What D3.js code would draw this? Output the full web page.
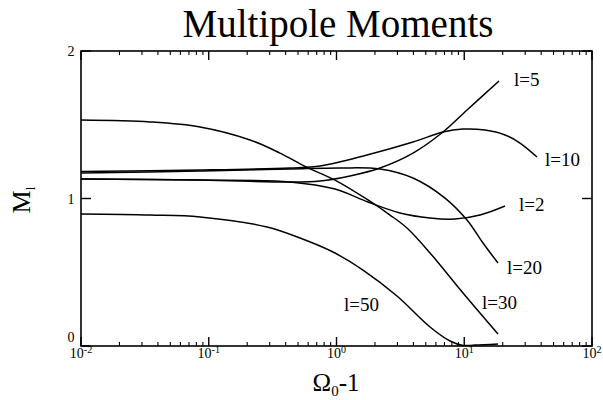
<!DOCTYPE html>
<html><head><meta charset="utf-8">
<script src="https://cdn.jsdelivr.net/npm/d3@7"></script>
<style>body{margin:0;background:#fff}svg{display:block}text{font-family:"Liberation Serif","Times New Roman",serif;fill:#000}</style>
</head><body><svg id="c" width="603" height="400"></svg>
<script>
// Data (x = Omega0 - 1, y = M_l)
const l2x  = [0.01, 0.0854, 0.4325, 0.973, 1.765, 3.142, 5.395, 8.465, 13.29, 20.84];
const l2y  = [1.132, 1.125, 1.112, 1.064, 0.976, 0.902, 0.868, 0.861, 0.888, 0.949];
const l5x  = [0.01, 0.0854, 0.4325, 0.743, 1.276, 2.190, 3.970, 6.820, 10.51, 18.71];
const l5y  = [1.132, 1.125, 1.112, 1.119, 1.153, 1.207, 1.308, 1.451, 1.600, 1.797];
const l10x = [0.01, 0.0854, 0.4325, 0.743, 1.733, 3.970, 6.820, 9.78, 14.54, 20.84, 27.32, 37.1];
const l10y = [1.183, 1.193, 1.207, 1.220, 1.295, 1.383, 1.451, 1.471, 1.464, 1.431, 1.376, 1.281];
const l20x = [0.01, 0.0854, 0.4325, 1.065, 2.190, 3.970, 7.07, 10.51, 14.02, 18.37];
const l20y = [1.173, 1.186, 1.200, 1.207, 1.200, 1.139, 1.003, 0.854, 0.698, 0.563];
const l30x = [0.01, 0.0347, 0.0854, 0.2104, 0.361, 0.577, 0.973, 1.765, 2.624, 3.563, 5.395, 9.78, 18.37];
const l30y = [1.532, 1.519, 1.485, 1.397, 1.308, 1.214, 1.125, 0.990, 0.888, 0.800, 0.631, 0.359, 0.081];
const l50x = [0.01, 0.0347, 0.0854, 0.2858, 0.518, 0.939, 1.612, 2.976, 5.395, 7.74, 9.78, 12.14, 18.37];
const l50y = [0.895, 0.888, 0.875, 0.807, 0.732, 0.637, 0.515, 0.339, 0.129, 0.034, 0.004, 0.006, 0.014];
const seriesNames = ["l=2", "l=5", "l=10", "l=20", "l=30", "l=50"];
const xTickVals = [0.01, 0.1, 1, 10, 100];
const xTickExp = ["-2", "-1", "0", "1", "2"];
const yTickVals = [0, 1, 2];
const yTickLabels = ["0", "1", "2"];
const title = "Multipole Moments";

const series = [
  {name: seriesNames[0], xs: l2x,  ys: l2y,  lx: 519, ly: 211},
  {name: seriesNames[1], xs: l5x,  ys: l5y,  lx: 514, ly: 86},
  {name: seriesNames[2], xs: l10x, ys: l10y, lx: 545, ly: 166},
  {name: seriesNames[3], xs: l20x, ys: l20y, lx: 507, ly: 274},
  {name: seriesNames[4], xs: l30x, ys: l30y, lx: 482, ly: 309},
  {name: seriesNames[5], xs: l50x, ys: l50y, lx: 344, ly: 311}
];

const svg = d3.select("#c");
svg.append("rect").attr("width",603).attr("height",400).attr("fill","#fff");
const L=81, R=592, T=51, B=346;
const x = d3.scaleLog().domain([0.01,100]).range([L,R]);
const y = d3.scaleLinear().domain([0,2]).range([B,T]);

// frame
svg.append("rect").attr("x",L).attr("y",T).attr("width",R-L).attr("height",B-T)
  .attr("fill","none").attr("stroke","#000").attr("stroke-width",1.6);

// x ticks
const minor = [];
[0.01,0.1,1,10].forEach(d=>{for(let k=2;k<=9;k++) minor.push(k*d);});
const tg = svg.append("g").attr("stroke","#000").attr("stroke-width",1.1);
minor.forEach(v=>{
  tg.append("line").attr("x1",x(v)).attr("x2",x(v)).attr("y1",B).attr("y2",B-4);
  tg.append("line").attr("x1",x(v)).attr("x2",x(v)).attr("y1",T).attr("y2",T+4);
});
xTickVals.forEach(v=>{
  tg.append("line").attr("x1",x(v)).attr("x2",x(v)).attr("y1",B).attr("y2",B-9).attr("stroke-width",1.4);
  tg.append("line").attr("x1",x(v)).attr("x2",x(v)).attr("y1",T).attr("y2",T+9).attr("stroke-width",1.4);
});
yTickVals.forEach(v=>{
  tg.append("line").attr("x1",L).attr("x2",L+10).attr("y1",y(v)).attr("y2",y(v)).attr("stroke-width",1.4);
  tg.append("line").attr("x1",R).attr("x2",R-10).attr("y1",y(v)).attr("y2",y(v)).attr("stroke-width",1.4);
});

// x tick labels
xTickVals.forEach((v,i)=>{
  const t = svg.append("text").attr("x",x(v)).attr("y",358).attr("text-anchor","middle").attr("font-size",14);
  t.append("tspan").text("10");
  t.append("tspan").attr("dy",-5).attr("font-size",10).text(xTickExp[i].replace("-","\u2011"));
});
// y tick labels
yTickVals.forEach((v,i)=>{
  svg.append("text").attr("x",71).attr("y",v===0 ? 342 : y(v)+5)
    .attr("text-anchor","middle").attr("font-size",14).text(yTickLabels[i]);
});

// title
svg.append("text").attr("x",338).attr("y",37).attr("text-anchor","middle")
  .attr("font-size",39).text(title);

// x axis title
const xt = svg.append("text").attr("x",336).attr("y",391).attr("text-anchor","middle").attr("font-size",25);
xt.append("tspan").text("\u03A9");
xt.append("tspan").attr("dy",5).attr("font-size",15).text("0");
xt.append("tspan").attr("dy",-5).text("-1");

// y axis title (rotated)
const yt = svg.append("text").attr("transform","translate(30,200) rotate(-90)")
  .attr("text-anchor","middle").attr("font-size",26);
yt.append("tspan").text("M");
yt.append("tspan").attr("dy",5).attr("font-size",13).text("l");

// curves
const line = d3.line().x(d=>x(d[0])).y(d=>y(d[1])).curve(d3.curveCatmullRom.alpha(0.5));
series.forEach(s=>{
  const pts = s.xs.map((v,i)=>[v, s.ys[i]]);
  svg.append("path").attr("d",line(pts)).attr("fill","none").attr("stroke","#000").attr("stroke-width",1.5);
  svg.append("text").attr("x",s.lx).attr("y",s.ly).attr("font-size",19).text(s.name);
});
</script></body></html>
